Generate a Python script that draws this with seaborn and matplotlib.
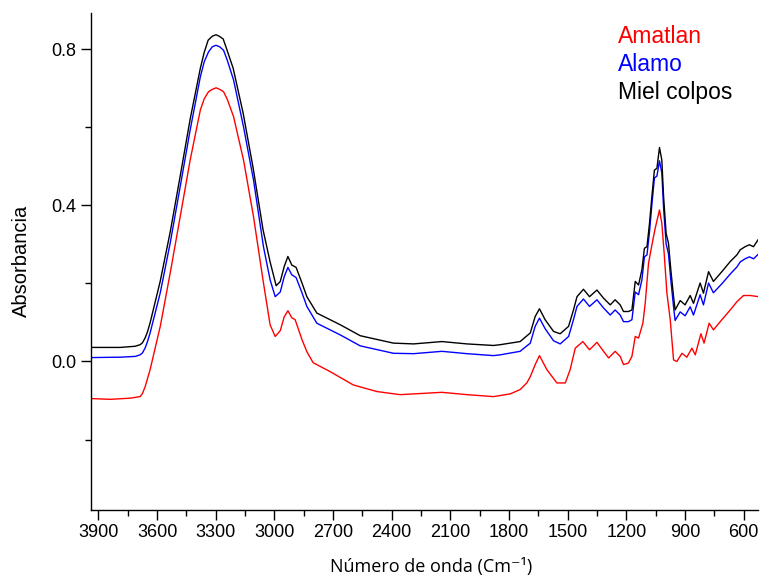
import numpy as np
import pandas as pd
import matplotlib
matplotlib.use("Agg")
import matplotlib.pyplot as plt
import seaborn as sns
from matplotlib.ticker import MultipleLocator

### DATA ###
# Miel colpos (black)
wn_miel = [3937, 3891, 3789, 3712, 3687, 3675, 3661, 3650, 3636, 3584, 3533, 3482, 3431, 3379, 3359, 3339,
           3318, 3299, 3282, 3262, 3242, 3211, 3160, 3109, 3058, 3022, 2991, 2970, 2950, 2931, 2911, 2889,
           2859, 2834, 2783, 2715, 2663, 2561, 2391, 2288, 2143, 2015, 1879, 1845, 1743, 1691, 1666, 1644,
           1615, 1572, 1538, 1495, 1470, 1452, 1419, 1388, 1350, 1316, 1282, 1257, 1231, 1214,
           1189, 1171, 1154, 1137, 1120, 1107, 1094, 1081, 1069, 1056, 1043, 1030, 1018, 1009,
           996, 984, 972, 958, 950, 924, 899, 873, 856, 822, 805, 779, 754, 711, 668, 634,
           617, 592, 570, 549, 524]
abs_miel = [0.036, 0.036, 0.036, 0.039, 0.043, 0.048, 0.061, 0.075, 0.099, 0.206, 0.332, 0.475, 0.621, 0.751, 0.792, 0.823,
            0.833, 0.837, 0.833, 0.826, 0.797, 0.751, 0.636, 0.496, 0.337, 0.255, 0.194, 0.205, 0.243, 0.269, 0.247, 0.241,
            0.201, 0.166, 0.124, 0.107, 0.094, 0.066, 0.047, 0.045, 0.051, 0.045, 0.041, 0.043, 0.051, 0.073, 0.115, 0.135,
            0.107, 0.077, 0.071, 0.090, 0.132, 0.166, 0.185, 0.166, 0.183, 0.162, 0.145, 0.158, 0.145, 0.128,
            0.128, 0.132, 0.205, 0.196, 0.235, 0.290, 0.294, 0.354, 0.422, 0.490, 0.495, 0.548, 0.516, 0.422,
            0.328, 0.303, 0.235, 0.166, 0.132, 0.156, 0.145, 0.169, 0.149, 0.201, 0.175, 0.230, 0.205, 0.230,
            0.256, 0.273, 0.286, 0.294, 0.299, 0.294, 0.313]

# Alamo (blue)
wn_alamo = [3937, 3789, 3712, 3687, 3675, 3661, 3650, 3636, 3584, 3533, 3482, 3431, 3379, 3359, 3337,
            3318, 3299, 3280, 3260, 3240, 3209, 3158, 3107, 3056, 3022, 2996, 2970, 2950, 2931, 2911,
            2889, 2859, 2834, 2783, 2715, 2663, 2561, 2391, 2288, 2143, 2015, 1879, 1845, 1743, 1691,
            1666, 1644, 1615, 1572, 1538, 1495, 1470, 1452, 1419, 1388, 1350, 1316, 1282, 1257, 1231,
            1214, 1189, 1171, 1154, 1137, 1120, 1107, 1094, 1081, 1069, 1056, 1043, 1030, 1018, 1009,
            996, 984, 972, 958, 950, 924, 899, 873, 856, 822, 805, 779, 754, 711, 668, 634, 617,
            592, 570, 549, 524]
abs_alamo = [0.010, 0.011, 0.013, 0.017, 0.022, 0.035, 0.050, 0.073, 0.176, 0.304, 0.448, 0.593, 0.729, 0.768, 0.793,
             0.806, 0.810, 0.806, 0.797, 0.770, 0.721, 0.601, 0.465, 0.294, 0.209, 0.166, 0.178, 0.217, 0.241, 0.222,
             0.215, 0.176, 0.141, 0.098, 0.081, 0.068, 0.040, 0.021, 0.020, 0.026, 0.020, 0.015, 0.017, 0.026, 0.047,
             0.090, 0.111, 0.084, 0.053, 0.045, 0.064, 0.107, 0.141, 0.160, 0.141, 0.158, 0.137, 0.119, 0.132, 0.119,
             0.102, 0.102, 0.107, 0.178, 0.171, 0.209, 0.268, 0.273, 0.332, 0.401, 0.470, 0.475, 0.514, 0.483, 0.393,
             0.301, 0.276, 0.209, 0.140, 0.105, 0.127, 0.117, 0.140, 0.119, 0.171, 0.145, 0.201, 0.176, 0.199, 0.224,
             0.242, 0.255, 0.263, 0.268, 0.263, 0.275]

# Amatlan (red)
wn_amatlan = [3937, 3840, 3738, 3687, 3675, 3661, 3650, 3636, 3584, 3533, 3482, 3431, 3379, 3359, 3337,
              3318, 3298, 3280, 3260, 3240, 3209, 3158, 3107, 3056, 3022, 2996, 2970, 2950, 2931, 2911,
              2894, 2859, 2834, 2802, 2715, 2597, 2476, 2357, 2143, 2015, 1879, 1794, 1743, 1709, 1691,
              1666, 1644, 1606, 1555, 1512, 1487, 1461, 1422, 1388, 1350, 1316, 1290, 1257, 1231, 1214,
              1189, 1171, 1154, 1137, 1115, 1103, 1086, 1064, 1052, 1030, 1018, 1006, 992, 975, 958,
              941, 915, 890, 864, 847, 818, 802, 776, 754, 711, 668, 634, 600, 566, 524]
abs_amatlan = [-0.095, -0.097, -0.094, -0.090, -0.082, -0.064, -0.045, -0.021, 0.090, 0.227, 0.371, 0.516, 0.644, 0.673, 0.691,
               0.697, 0.701, 0.697, 0.691, 0.670, 0.627, 0.516, 0.371, 0.201, 0.094, 0.064, 0.079, 0.114, 0.130, 0.112,
               0.107, 0.056, 0.025, -0.003, -0.026, -0.060, -0.077, -0.085, -0.079, -0.085, -0.090, -0.083, -0.072, -0.055, -0.039,
               -0.008, 0.015, -0.021, -0.055, -0.055, -0.021, 0.034, 0.051, 0.030, 0.049, 0.026, 0.009, 0.026, 0.013, -0.008,
               -0.004, 0.013, 0.064, 0.060, 0.098, 0.149, 0.252, 0.311, 0.341, 0.388, 0.354, 0.277, 0.175, 0.107, 0.004,
               0.000, 0.021, 0.011, 0.034, 0.017, 0.071, 0.047, 0.098, 0.081, 0.107, 0.132, 0.153, 0.169, 0.169, 0.166]

names = ["Amatlan", "Alamo", "Miel colpos"]
colors = {"Amatlan": "#ff0000", "Alamo": "#0000ff", "Miel colpos": "#000000"}

df = pd.concat([
    pd.DataFrame({"wn": wn_amatlan, "A": abs_amatlan, "muestra": "Amatlan"}),
    pd.DataFrame({"wn": wn_alamo, "A": abs_alamo, "muestra": "Alamo"}),
    pd.DataFrame({"wn": wn_miel, "A": abs_miel, "muestra": "Miel colpos"}),
])

### PLOT ###
sns.set_style("ticks")
plt.rcParams["font.family"] = ["Liberation Sans", "DejaVu Sans"]
plt.rcParams["text.color"] = "black"
plt.rcParams["axes.labelcolor"] = "black"

fig = plt.figure(figsize=(7.62, 5.84), dpi=100)
ax = fig.add_axes([0.119, 0.127, 0.876, 0.851])

sns.lineplot(data=df, x="wn", y="A", hue="muestra", palette=colors, estimator=None,
             sort=False, linewidth=1.0, legend=False, ax=ax)

#! reversed wavenumber axis
ax.set_xlim(3940, 525)
ax.set_ylim(-0.38, 0.893)
ax.xaxis.set_major_locator(MultipleLocator(300))
ax.xaxis.set_minor_locator(MultipleLocator(150))
ax.yaxis.set_major_locator(MultipleLocator(0.4))
ax.yaxis.set_minor_locator(MultipleLocator(0.2))
ax.yaxis.set_major_formatter(matplotlib.ticker.FormatStrFormatter("%.1f"))

ax.tick_params(which="major", direction="out", length=7, width=1, colors="black")
ax.tick_params(which="minor", direction="out", length=4, width=1, colors="black")
ax.tick_params(axis="y", labelsize=13)
ax.tick_params(axis="x", labelsize=13)
for lab in ax.get_xticklabels():
    lab.set_family(["Liberation Sans Narrow", "Liberation Sans"])

sns.despine(ax=ax)
for s in ["left", "bottom"]:
    ax.spines[s].set_linewidth(1.0)
    ax.spines[s].set_color("black")

ax.set_ylabel("Absorbancia", fontsize=14.5)
ax.yaxis.set_label_coords(-0.089, 0.5)
ax.set_xlabel("Número de onda (Cm⁻¹)", fontsize=13, family=["Open Sans", "DejaVu Sans"])
ax.xaxis.set_label_coords(0.51, -0.097)

#! colored text legend
ypos = [0.953, 0.897, 0.839]
for n, yy in zip(names, ypos):
    ax.text(0.790, yy, n, color=colors[n], fontsize=16.5, transform=ax.transAxes, va="center", ha="left")

plt.savefig("out.png", dpi=100)
